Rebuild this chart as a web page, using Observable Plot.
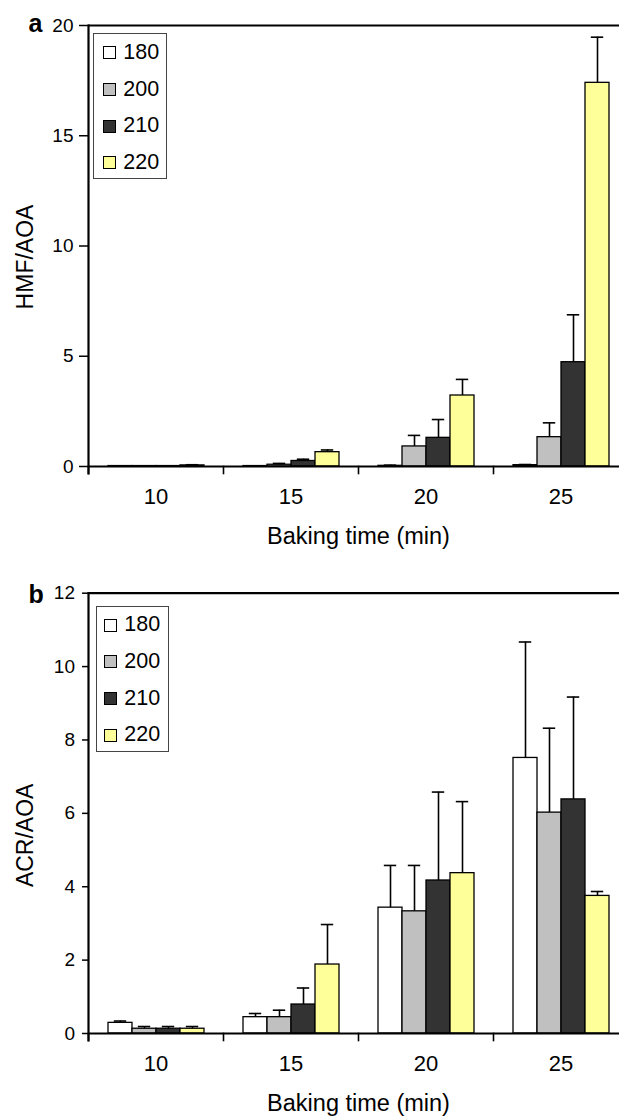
<!DOCTYPE html>
<html><head><meta charset="utf-8">
<script src="https://cdn.jsdelivr.net/npm/d3@7"></script>
<script src="https://cdn.jsdelivr.net/npm/@observablehq/plot@0.6"></script>
<style>
body{margin:0;background:#fff;font-family:"Liberation Sans",Arial,sans-serif;}
#root{position:relative;width:619px;height:1117px;overflow:hidden;background:#fff;}
.panel{position:relative;}
.legend{position:absolute;border:1px solid #444;background:#fff;box-sizing:border-box;}
.legend .row{display:flex;align-items:center;height:36.7px;}
.legend .sw{width:13px;height:13px;border:1px solid #000;box-sizing:border-box;flex:none;}
.legend .lab{font-size:21.5px;margin-left:7px;line-height:1;color:#000;}
</style></head><body><div id="root"></div>
<script>
const times = [10, 15, 20, 25];
const temps = ["180", "200", "210", "220"];
const colors = ["#ffffff", "#c0c0c0", "#333333", "#ffff99"];
const xTitle = "Baking time (min)";

// Panel a: HMF/AOA (means and upper SD)
const hmf180 = [0.02, 0.02, 0.03, 0.06];
const hmf200 = [0.02, 0.08, 0.91, 1.33];
const hmf210 = [0.02, 0.25, 1.30, 4.73];
const hmf220 = [0.05, 0.65, 3.22, 17.40];
const hmfErr180 = [0.01, 0.01, 0.03, 0.03];
const hmfErr200 = [0.01, 0.06, 0.50, 0.65];
const hmfErr210 = [0.01, 0.08, 0.83, 2.15];
const hmfErr220 = [0.03, 0.10, 0.73, 2.07];
const hmfTicks = [0, 5, 10, 15, 20];

// Panel b: ACR/AOA
const acr180 = [0.29, 0.445, 3.43, 7.51];
const acr200 = [0.13, 0.445, 3.33, 6.02];
const acr210 = [0.13, 0.79, 4.17, 6.38];
const acr220 = [0.13, 1.88, 4.37, 3.75];
const acrErr180 = [0.05, 0.10, 1.15, 3.16];
const acrErr200 = [0.06, 0.19, 1.25, 2.30];
const acrErr210 = [0.06, 0.45, 2.41, 2.79];
const acrErr220 = [0.06, 1.09, 1.95, 0.12];
const acrTicks = [0, 2, 4, 6, 8, 10, 12];

function chart(cfg) {
  const data = [];
  times.forEach((t, i) => temps.forEach((k, j) =>
    data.push({time: t, temp: k, value: cfg.values[j][i], err: cfg.errs[j][i]})));
  const plotH = cfg.height - cfg.marginTop - cfg.marginBottom;
  const yMax = cfg.ticks[cfg.ticks.length - 1];
  return Plot.plot({
    width: 619, height: cfg.height,
    marginLeft: 87, marginRight: -10,
    marginTop: cfg.marginTop, marginBottom: cfg.marginBottom,
    style: {fontFamily: '"Liberation Sans", Arial, sans-serif', background: "white", color: "black", overflow: "visible"},
    fx: {domain: times, padding: 0},
    x: {domain: temps, paddingInner: 0, paddingOuter: 0.75, axis: null},
    y: {domain: [0, yMax]},
    color: {domain: temps, range: colors},
    marks: [
      Plot.barY(data, {fx: "time", x: "temp", y: "value", fill: "temp", stroke: "black", strokeWidth: 1.3}),
      Plot.ruleX(data, {fx: "time", x: "temp", y1: "value", y2: d => d.value + d.err, stroke: "black", strokeWidth: 1.6}),
      Plot.tickY(data, {fx: "time", x: "temp", y: d => d.value + d.err, stroke: "black", strokeWidth: 1.6, insetLeft: 5.8, insetRight: 5.8}),
      Plot.ruleY([0], {stroke: "black", strokeWidth: 2.2}),
      Plot.ruleY([yMax], {stroke: "black", strokeWidth: 2.2}),
      Plot.frame({anchor: "left", facetAnchor: "left", stroke: "black", strokeWidth: 2.2, insetBottom: -7}),
      Plot.frame({anchor: "left", stroke: "black", strokeWidth: 1.6, insetTop: plotH, insetBottom: -7}),
      Plot.axisY(cfg.ticks, {tickSize: cfg.tickSize, tickPadding: cfg.tickPadding, fontSize: 19, label: null, strokeWidth: 1.5}),
      Plot.axisFx({anchor: "bottom", tickSize: 0, tickPadding: 22, fontSize: 22, label: null}),
      Plot.axisFx({anchor: "bottom", tickSize: 0, tickFormat: () => "", label: xTitle, labelAnchor: "center", labelOffset: 77, labelArrow: "none", fontSize: 23.5, dx: 5}),
      Plot.text([cfg.yLabel], {text: d => d, frameAnchor: "left", facetAnchor: "left", rotate: -90, textAnchor: "middle", dx: -63, dy: cfg.labelDy, fontSize: 23}),
      Plot.text([cfg.panel], {text: d => d, frameAnchor: "top-left", facetAnchor: "left", dx: -60, dy: cfg.letterDy, textAnchor: "start", lineAnchor: "bottom", fontSize: 25, fontWeight: "bold"})
    ]
  });
}

function legend(pos) {
  const box = document.createElement("div");
  box.className = "legend";
  Object.assign(box.style, {left: pos.left + "px", top: pos.top + "px", width: pos.width + "px", height: pos.height + "px", paddingTop: pos.padTop + "px", paddingLeft: pos.padLeft + "px"});
  temps.forEach((k, j) => {
    const row = document.createElement("div");
    row.className = "row";
    const sw = document.createElement("div");
    sw.className = "sw";
    sw.style.background = colors[j];
    const lab = document.createElement("span");
    lab.className = "lab";
    lab.textContent = k;
    row.append(sw, lab);
    box.append(row);
  });
  return box;
}

const root = document.getElementById("root");

const p1 = document.createElement("div");
p1.className = "panel";
p1.append(chart({
  values: [hmf180, hmf200, hmf210, hmf220],
  errs: [hmfErr180, hmfErr200, hmfErr210, hmfErr220],
  ticks: hmfTicks, yLabel: "HMF/AOA", panel: "a",
  height: 560, marginTop: 25, marginBottom: 94,
  tickSize: 9, tickPadding: 6, labelDy: 11, letterDy: 6.7
}));
p1.append(legend({left: 93.3, top: 32.7, width: 73.4, height: 146.6, padTop: 0.6, padLeft: 9}));
root.append(p1);

const p2 = document.createElement("div");
p2.className = "panel";
p2.append(chart({
  values: [acr180, acr200, acr210, acr220],
  errs: [acrErr180, acrErr200, acrErr210, acrErr220],
  ticks: acrTicks, yLabel: "ACR/AOA", panel: "b",
  height: 557, marginTop: 32.7, marginBottom: 84,
  tickSize: 6, tickPadding: 7.5, labelDy: 22, letterDy: 10
}));
p2.append(legend({left: 96, top: 45.7, width: 73.3, height: 146.6, padTop: -0.7, padLeft: 7.3}));
root.append(p2);
</script>
</body></html>
